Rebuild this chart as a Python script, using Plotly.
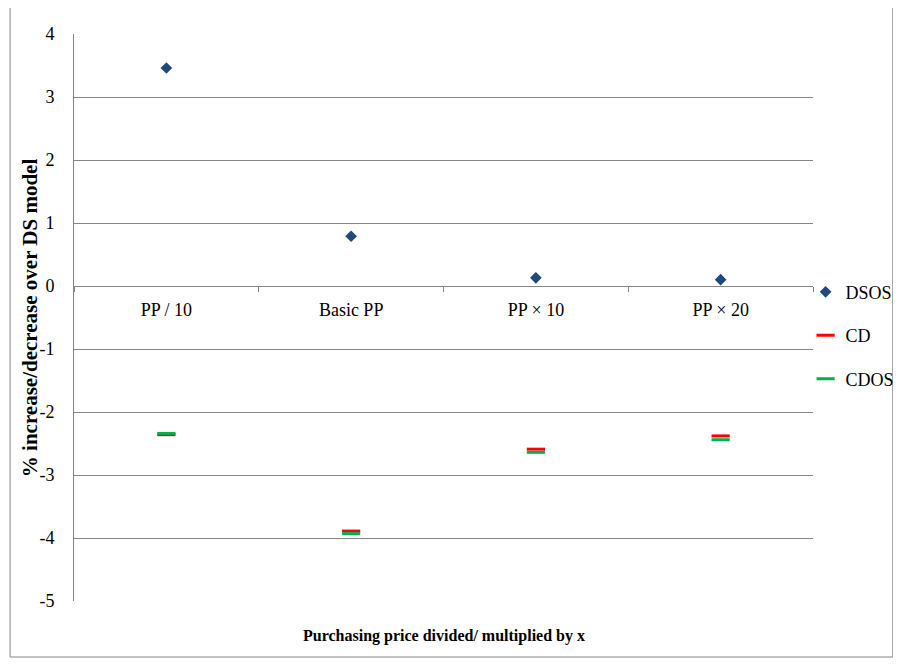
import plotly.graph_objects as go

categories = ["PP / 10", "Basic PP", "PP \u00d7 10", "PP \u00d7 20"]
dsos = [3.46, 0.79, 0.13, 0.10]
cd = [-2.36, -3.89, -2.59, -2.38]
cdos = [-2.34, -3.93, -2.64, -2.44]
y_ticks = [4, 3, 2, 1, 0, -1, -2, -3, -4, -5]

serif = "Liberation Serif"

fig = go.Figure()
fig.add_trace(go.Scatter(x=categories, y=dsos, mode="markers", name="DSOS",
                         legendgroup="a",
                         marker=dict(symbol="diamond", size=9, color="#1F497D",
                                     line=dict(width=0))))
fig.add_trace(go.Scatter(x=categories, y=cd, mode="markers", name="CD",
                         legendgroup="b",
                         marker=dict(symbol="line-ew", size=13,
                                     line=dict(width=3, color="#FF0000"))))
fig.add_trace(go.Scatter(x=categories, y=cdos, mode="markers", name="CDOS",
                         legendgroup="c",
                         marker=dict(symbol="line-ew", size=13,
                                     line=dict(width=3, color="#00B050"))))

fig.update_layout(
    width=901, height=664,
    margin=dict(l=66, r=96, t=26, b=71, autoexpand=False),
    paper_bgcolor="white", plot_bgcolor="white",
    font=dict(family=serif, size=18, color="black"),
    showlegend=True,
    legend=dict(x=0.99, y=0.468, xanchor="left", yanchor="middle",
                font=dict(family=serif, size=18, color="black"),
                tracegroupgap=17, bgcolor="rgba(0,0,0,0)"),
    xaxis=dict(
        type="category", range=[-0.5, 3.5],
        anchor="free", position=5/9,
        showline=True, linecolor="#868686", linewidth=1,
        ticks="outside", tickson="boundaries", ticklen=5, tickcolor="#868686",
        showgrid=False, zeroline=False,
        tickfont=dict(family=serif, size=18, color="black"),
        ticklabelstandoff=7,
    ),
    yaxis=dict(
        range=[-5, 4], tickvals=y_ticks, ticktext=[str(v) for v in y_ticks],
        showgrid=True, gridcolor="#868686", gridwidth=1,
        showline=True, linecolor="#868686", linewidth=1,
        zeroline=False, ticks="",
        tickfont=dict(family=serif, size=18, color="black"),
        ticklabelstandoff=15,
    ),
    annotations=[
        dict(text="<b>Purchasing price divided/ multiplied by x</b>",
             xref="paper", yref="paper", x=0.5, y=-0.062,
             xanchor="center", yanchor="middle", showarrow=False,
             font=dict(family=serif, size=16, color="black")),
        dict(text="<b>% increase/decrease over DS model</b>",
             xref="paper", yref="paper", x=-0.06, y=0.5, textangle=-90,
             xanchor="center", yanchor="middle", showarrow=False,
             font=dict(family=serif, size=21, color="black")),
    ],
    shapes=[
        dict(type="rect", xref="paper", yref="paper",
             x0=-0.0865, x1=1.108, y0=-0.0988, y1=1.0476,
             line=dict(color="#868686", width=1), fillcolor="rgba(0,0,0,0)",
             layer="below"),
    ],
)

fig.write_html("out.html")
